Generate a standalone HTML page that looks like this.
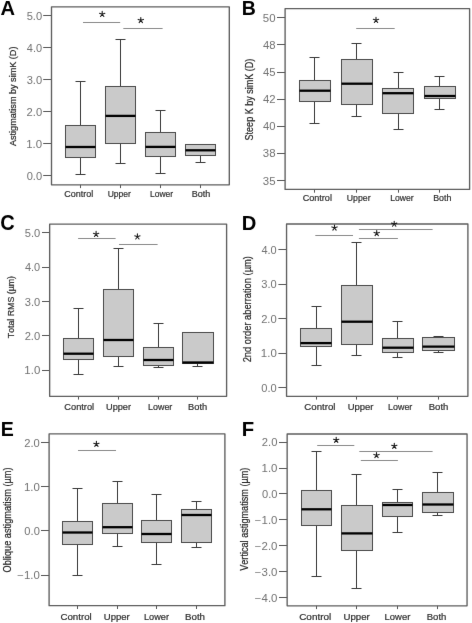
<!DOCTYPE html>
<html><head><meta charset="utf-8"><style>
html,body{margin:0;padding:0;background:#fff;}
svg{display:block;will-change:transform;}
text{font-family:"Liberation Sans", sans-serif;font-kerning:none;}
</style></head><body>
<svg width="472" height="623" viewBox="0 0 472 623">
<defs><filter id="soft" x="0" y="0" width="472" height="623" filterUnits="userSpaceOnUse" color-interpolation-filters="sRGB"><feConvolveMatrix order="3" kernelMatrix="0.00276 0.04704 0.00276 0.04704 0.80077 0.04704 0.00276 0.04704 0.00276" edgeMode="duplicate" preserveAlpha="true"/></filter></defs>
<g filter="url(#soft)">
<rect width="472" height="623" fill="#fff"/>
<line x1="43.2" y1="15.5" x2="51.5" y2="15.5" stroke="#555" stroke-width="1"/>
<text transform="translate(26.65,19.69) scale(1.1136,1)" font-size="10" fill="#727272">5.0</text>
<line x1="43.2" y1="47.5" x2="51.5" y2="47.5" stroke="#555" stroke-width="1"/>
<text transform="translate(26.85,51.79) scale(1.0993,1)" font-size="10" fill="#727272">4.0</text>
<line x1="43.2" y1="79.5" x2="51.5" y2="79.5" stroke="#555" stroke-width="1"/>
<text transform="translate(26.68,83.99) scale(1.1120,1)" font-size="10" fill="#727272">3.0</text>
<line x1="43.2" y1="111.5" x2="51.5" y2="111.5" stroke="#555" stroke-width="1"/>
<text transform="translate(26.54,115.79) scale(1.1224,1)" font-size="10" fill="#727272">2.0</text>
<line x1="43.2" y1="143.5" x2="51.5" y2="143.5" stroke="#555" stroke-width="1"/>
<text transform="translate(26.23,147.89) scale(1.1452,1)" font-size="10" fill="#727272">1.0</text>
<line x1="43.2" y1="175.5" x2="51.5" y2="175.5" stroke="#555" stroke-width="1"/>
<text transform="translate(26.67,179.69) scale(1.1128,1)" font-size="10" fill="#727272">0.0</text>
<line x1="80.5" y1="81.5" x2="80.5" y2="125.5" stroke="#383838" stroke-width="1"/>
<line x1="80.5" y1="157.5" x2="80.5" y2="174.5" stroke="#383838" stroke-width="1"/>
<line x1="75.5" y1="81.5" x2="85.5" y2="81.5" stroke="#383838" stroke-width="1"/>
<line x1="75.5" y1="174.5" x2="85.5" y2="174.5" stroke="#383838" stroke-width="1"/>
<rect x="65.5" y="125.5" width="30" height="32" fill="#cacaca" stroke="#4a4a4a" stroke-width="1"/>
<line x1="65.5" y1="147" x2="95.5" y2="147" stroke="#000" stroke-width="2.3"/>
<line x1="80.5" y1="184.8" x2="80.5" y2="188.1" stroke="#555" stroke-width="1"/>
<line x1="120.5" y1="39.5" x2="120.5" y2="86.5" stroke="#383838" stroke-width="1"/>
<line x1="120.5" y1="143.5" x2="120.5" y2="163.5" stroke="#383838" stroke-width="1"/>
<line x1="115.5" y1="39.5" x2="125.5" y2="39.5" stroke="#383838" stroke-width="1"/>
<line x1="115.5" y1="163.5" x2="125.5" y2="163.5" stroke="#383838" stroke-width="1"/>
<rect x="105.5" y="86.5" width="30" height="57" fill="#cacaca" stroke="#4a4a4a" stroke-width="1"/>
<line x1="105.5" y1="115.9" x2="135.5" y2="115.9" stroke="#000" stroke-width="2.3"/>
<line x1="120.5" y1="184.8" x2="120.5" y2="188.1" stroke="#555" stroke-width="1"/>
<line x1="160.5" y1="110.5" x2="160.5" y2="132.5" stroke="#383838" stroke-width="1"/>
<line x1="160.5" y1="156.5" x2="160.5" y2="173.5" stroke="#383838" stroke-width="1"/>
<line x1="155.5" y1="110.5" x2="165.5" y2="110.5" stroke="#383838" stroke-width="1"/>
<line x1="155.5" y1="173.5" x2="165.5" y2="173.5" stroke="#383838" stroke-width="1"/>
<rect x="145.5" y="132.5" width="30" height="24" fill="#cacaca" stroke="#4a4a4a" stroke-width="1"/>
<line x1="145.5" y1="146.9" x2="175.5" y2="146.9" stroke="#000" stroke-width="2.3"/>
<line x1="160.5" y1="184.8" x2="160.5" y2="188.1" stroke="#555" stroke-width="1"/>
<line x1="200.5" y1="144.5" x2="200.5" y2="144.5" stroke="#383838" stroke-width="1"/>
<line x1="200.5" y1="155.5" x2="200.5" y2="162.5" stroke="#383838" stroke-width="1"/>
<line x1="195.5" y1="144.5" x2="205.5" y2="144.5" stroke="#383838" stroke-width="1"/>
<line x1="195.5" y1="162.5" x2="205.5" y2="162.5" stroke="#383838" stroke-width="1"/>
<rect x="185.5" y="144.5" width="30" height="11" fill="#cacaca" stroke="#4a4a4a" stroke-width="1"/>
<line x1="185.5" y1="150.3" x2="215.5" y2="150.3" stroke="#000" stroke-width="2.3"/>
<line x1="200.5" y1="184.8" x2="200.5" y2="188.1" stroke="#555" stroke-width="1"/>
<text transform="translate(64.24,196.9) scale(1.0244,1)" font-size="8.8" fill="#2e2e2e" stroke="#2e2e2e" stroke-width="0.2">Control</text>
<text transform="translate(107.64,196.9) scale(0.9722,1)" font-size="8.8" fill="#2e2e2e" stroke="#2e2e2e" stroke-width="0.2">Upper</text>
<text transform="translate(150,196.9) scale(0.9654,1)" font-size="8.8" fill="#2e2e2e" stroke="#2e2e2e" stroke-width="0.2">Lower</text>
<text transform="translate(191.76,196.9) scale(1.0292,1)" font-size="8.8" fill="#2e2e2e" stroke="#2e2e2e" stroke-width="0.2">Both</text>
<rect x="51.5" y="6.85" width="177.8" height="177.95" fill="none" stroke="#5e5e5e" stroke-width="1.35" stroke-linejoin="round"/>
<line x1="83" y1="22.5" x2="120.2" y2="22.5" stroke="#8a8a8a" stroke-width="1"/>
<path d="M102.2,14.2L102.2,11.4M102.2,14.2L104.86,13.33M102.2,14.2L103.85,16.47M102.2,14.2L100.55,16.47M102.2,14.2L99.54,13.33" stroke="#1a1a1a" stroke-width="1.1" stroke-linecap="round" fill="none"/>
<line x1="123.3" y1="28.5" x2="162.6" y2="28.5" stroke="#8a8a8a" stroke-width="1"/>
<path d="M140.8,20.3L140.8,17.5M140.8,20.3L143.46,19.43M140.8,20.3L142.45,22.57M140.8,20.3L139.15,22.57M140.8,20.3L138.14,19.43" stroke="#1a1a1a" stroke-width="1.1" stroke-linecap="round" fill="none"/>
<text transform="translate(15.55,146.02) rotate(-90) scale(0.9780,1)" font-size="9.30" fill="#262626" stroke="#262626" stroke-width="0.2">Astigmatism by simK (D)</text>
<text transform="translate(0.4,14.9) scale(0.9888,1)" font-size="20.35" fill="#000" font-weight="bold">A</text>
<line x1="277" y1="17.5" x2="285.1" y2="17.5" stroke="#555" stroke-width="1"/>
<text transform="translate(262.84,21.99) scale(1.1421,1)" font-size="10" fill="#727272">50</text>
<line x1="277" y1="44.5" x2="285.1" y2="44.5" stroke="#555" stroke-width="1"/>
<text transform="translate(263.04,49.09) scale(1.1282,1)" font-size="10" fill="#727272">48</text>
<line x1="277" y1="72.5" x2="285.1" y2="72.5" stroke="#555" stroke-width="1"/>
<text transform="translate(263.04,76.14) scale(1.1266,1)" font-size="10" fill="#727272">45</text>
<line x1="277" y1="99.5" x2="285.1" y2="99.5" stroke="#555" stroke-width="1"/>
<text transform="translate(263.04,103.29) scale(1.1356,1)" font-size="10" fill="#727272">42</text>
<line x1="277" y1="126.5" x2="285.1" y2="126.5" stroke="#555" stroke-width="1"/>
<text transform="translate(263.04,130.39) scale(1.1235,1)" font-size="10" fill="#727272">40</text>
<line x1="277" y1="153.5" x2="285.1" y2="153.5" stroke="#555" stroke-width="1"/>
<text transform="translate(262.86,157.49) scale(1.1448,1)" font-size="10" fill="#727272">38</text>
<line x1="277" y1="180.5" x2="285.1" y2="180.5" stroke="#555" stroke-width="1"/>
<text transform="translate(262.86,184.59) scale(1.1432,1)" font-size="10" fill="#727272">35</text>
<line x1="314.5" y1="57.5" x2="314.5" y2="80.5" stroke="#383838" stroke-width="1"/>
<line x1="314.5" y1="101.5" x2="314.5" y2="123.5" stroke="#383838" stroke-width="1"/>
<line x1="309.5" y1="57.5" x2="319.5" y2="57.5" stroke="#383838" stroke-width="1"/>
<line x1="309.5" y1="123.5" x2="319.5" y2="123.5" stroke="#383838" stroke-width="1"/>
<rect x="299.5" y="80.5" width="31" height="21" fill="#cacaca" stroke="#4a4a4a" stroke-width="1"/>
<line x1="299.5" y1="90.7" x2="330.5" y2="90.7" stroke="#000" stroke-width="2.3"/>
<line x1="314.5" y1="189.4" x2="314.5" y2="192.7" stroke="#555" stroke-width="1"/>
<line x1="356.5" y1="43.5" x2="356.5" y2="59.5" stroke="#383838" stroke-width="1"/>
<line x1="356.5" y1="104.5" x2="356.5" y2="116.5" stroke="#383838" stroke-width="1"/>
<line x1="351.5" y1="43.5" x2="361.5" y2="43.5" stroke="#383838" stroke-width="1"/>
<line x1="351.5" y1="116.5" x2="361.5" y2="116.5" stroke="#383838" stroke-width="1"/>
<rect x="341.5" y="59.5" width="31" height="45" fill="#cacaca" stroke="#4a4a4a" stroke-width="1"/>
<line x1="341.5" y1="83.7" x2="372.5" y2="83.7" stroke="#000" stroke-width="2.3"/>
<line x1="356.5" y1="189.4" x2="356.5" y2="192.7" stroke="#555" stroke-width="1"/>
<line x1="398.5" y1="72.5" x2="398.5" y2="88.5" stroke="#383838" stroke-width="1"/>
<line x1="398.5" y1="113.5" x2="398.5" y2="129.5" stroke="#383838" stroke-width="1"/>
<line x1="393.5" y1="72.5" x2="403.5" y2="72.5" stroke="#383838" stroke-width="1"/>
<line x1="393.5" y1="129.5" x2="403.5" y2="129.5" stroke="#383838" stroke-width="1"/>
<rect x="382.5" y="88.5" width="31" height="25" fill="#cacaca" stroke="#4a4a4a" stroke-width="1"/>
<line x1="382.5" y1="93.2" x2="413.5" y2="93.2" stroke="#000" stroke-width="2.3"/>
<line x1="398.5" y1="189.4" x2="398.5" y2="192.7" stroke="#555" stroke-width="1"/>
<line x1="439.5" y1="76.5" x2="439.5" y2="86.5" stroke="#383838" stroke-width="1"/>
<line x1="439.5" y1="98.5" x2="439.5" y2="109.5" stroke="#383838" stroke-width="1"/>
<line x1="434.5" y1="76.5" x2="444.5" y2="76.5" stroke="#383838" stroke-width="1"/>
<line x1="434.5" y1="109.5" x2="444.5" y2="109.5" stroke="#383838" stroke-width="1"/>
<rect x="424.5" y="86.5" width="31" height="12" fill="#cacaca" stroke="#4a4a4a" stroke-width="1"/>
<line x1="424.5" y1="96" x2="455.5" y2="96" stroke="#000" stroke-width="2.3"/>
<line x1="439.5" y1="189.4" x2="439.5" y2="192.7" stroke="#555" stroke-width="1"/>
<text transform="translate(302.64,201) scale(1.0354,1)" font-size="8.8" fill="#2e2e2e" stroke="#2e2e2e" stroke-width="0.2">Control</text>
<text transform="translate(346.83,201) scale(0.9895,1)" font-size="8.8" fill="#2e2e2e" stroke="#2e2e2e" stroke-width="0.2">Upper</text>
<text transform="translate(390.29,201) scale(0.9784,1)" font-size="8.8" fill="#2e2e2e" stroke="#2e2e2e" stroke-width="0.2">Lower</text>
<text transform="translate(433.17,201) scale(1.0054,1)" font-size="8.8" fill="#2e2e2e" stroke="#2e2e2e" stroke-width="0.2">Both</text>
<rect x="285.1" y="8.55" width="184.5" height="180.85" fill="none" stroke="#5e5e5e" stroke-width="1.35" stroke-linejoin="round"/>
<line x1="356.2" y1="28.5" x2="394.7" y2="28.5" stroke="#8a8a8a" stroke-width="1"/>
<path d="M376,20.2L376,17.4M376,20.2L378.66,19.33M376,20.2L377.65,22.47M376,20.2L374.35,22.47M376,20.2L373.34,19.33" stroke="#1a1a1a" stroke-width="1.1" stroke-linecap="round" fill="none"/>
<text transform="translate(253.25,140.41) rotate(-90) scale(0.8737,1)" font-size="10.32" fill="#262626" stroke="#262626" stroke-width="0.2">Steep K by simK (D)</text>
<text transform="translate(241.79,15) scale(0.9589,1)" font-size="20.35" fill="#000" font-weight="bold">B</text>
<line x1="42" y1="232.5" x2="49.65" y2="232.5" stroke="#555" stroke-width="1"/>
<text transform="translate(24.75,236.79) scale(1.1136,1)" font-size="10" fill="#727272">5.0</text>
<line x1="42" y1="267.5" x2="49.65" y2="267.5" stroke="#555" stroke-width="1"/>
<text transform="translate(24.95,271.19) scale(1.0993,1)" font-size="10" fill="#727272">4.0</text>
<line x1="42" y1="301.5" x2="49.65" y2="301.5" stroke="#555" stroke-width="1"/>
<text transform="translate(24.78,305.59) scale(1.1120,1)" font-size="10" fill="#727272">3.0</text>
<line x1="42" y1="335.5" x2="49.65" y2="335.5" stroke="#555" stroke-width="1"/>
<text transform="translate(24.64,339.89) scale(1.1224,1)" font-size="10" fill="#727272">2.0</text>
<line x1="42" y1="370.5" x2="49.65" y2="370.5" stroke="#555" stroke-width="1"/>
<text transform="translate(24.33,374.49) scale(1.1452,1)" font-size="10" fill="#727272">1.0</text>
<line x1="78.5" y1="308.5" x2="78.5" y2="338.5" stroke="#383838" stroke-width="1"/>
<line x1="78.5" y1="359.5" x2="78.5" y2="374.5" stroke="#383838" stroke-width="1"/>
<line x1="73.5" y1="308.5" x2="83.5" y2="308.5" stroke="#383838" stroke-width="1"/>
<line x1="73.5" y1="374.5" x2="83.5" y2="374.5" stroke="#383838" stroke-width="1"/>
<rect x="63.5" y="338.5" width="30" height="21" fill="#cacaca" stroke="#4a4a4a" stroke-width="1"/>
<line x1="63.5" y1="353.7" x2="93.5" y2="353.7" stroke="#000" stroke-width="2.3"/>
<line x1="78.5" y1="396.3" x2="78.5" y2="399.6" stroke="#555" stroke-width="1"/>
<line x1="118.5" y1="248.5" x2="118.5" y2="289.5" stroke="#383838" stroke-width="1"/>
<line x1="118.5" y1="356.5" x2="118.5" y2="366.5" stroke="#383838" stroke-width="1"/>
<line x1="113.5" y1="248.5" x2="123.5" y2="248.5" stroke="#383838" stroke-width="1"/>
<line x1="113.5" y1="366.5" x2="123.5" y2="366.5" stroke="#383838" stroke-width="1"/>
<rect x="103.5" y="289.5" width="30" height="67" fill="#cacaca" stroke="#4a4a4a" stroke-width="1"/>
<line x1="103.5" y1="340" x2="133.5" y2="340" stroke="#000" stroke-width="2.3"/>
<line x1="118.5" y1="396.3" x2="118.5" y2="399.6" stroke="#555" stroke-width="1"/>
<line x1="158.5" y1="323.5" x2="158.5" y2="347.5" stroke="#383838" stroke-width="1"/>
<line x1="158.5" y1="365.5" x2="158.5" y2="367.5" stroke="#383838" stroke-width="1"/>
<line x1="153.5" y1="323.5" x2="163.5" y2="323.5" stroke="#383838" stroke-width="1"/>
<line x1="153.5" y1="367.5" x2="163.5" y2="367.5" stroke="#383838" stroke-width="1"/>
<rect x="143.5" y="347.5" width="30" height="18" fill="#cacaca" stroke="#4a4a4a" stroke-width="1"/>
<line x1="143.5" y1="360" x2="173.5" y2="360" stroke="#000" stroke-width="2.3"/>
<line x1="158.5" y1="396.3" x2="158.5" y2="399.6" stroke="#555" stroke-width="1"/>
<line x1="197.5" y1="332.5" x2="197.5" y2="332.5" stroke="#383838" stroke-width="1"/>
<line x1="197.5" y1="363.5" x2="197.5" y2="366.5" stroke="#383838" stroke-width="1"/>
<line x1="192.5" y1="332.5" x2="202.5" y2="332.5" stroke="#383838" stroke-width="1"/>
<line x1="192.5" y1="366.5" x2="202.5" y2="366.5" stroke="#383838" stroke-width="1"/>
<rect x="182.5" y="332.5" width="31" height="31" fill="#cacaca" stroke="#4a4a4a" stroke-width="1"/>
<line x1="182.5" y1="362.5" x2="213.5" y2="362.5" stroke="#000" stroke-width="2.3"/>
<line x1="197.5" y1="396.3" x2="197.5" y2="399.6" stroke="#555" stroke-width="1"/>
<text transform="translate(64.33,409.6) scale(1.0537,1)" font-size="8.8" fill="#2e2e2e" stroke="#2e2e2e" stroke-width="0.2">Control</text>
<text transform="translate(105.99,409.6) scale(1.0457,1)" font-size="8.8" fill="#2e2e2e" stroke="#2e2e2e" stroke-width="0.2">Upper</text>
<text transform="translate(148.07,409.6) scale(1.0130,1)" font-size="8.8" fill="#2e2e2e" stroke="#2e2e2e" stroke-width="0.2">Lower</text>
<text transform="translate(188.04,409.6) scale(1.0589,1)" font-size="8.8" fill="#2e2e2e" stroke="#2e2e2e" stroke-width="0.2">Both</text>
<rect x="49.65" y="224.05" width="176.95" height="172.25" fill="none" stroke="#5e5e5e" stroke-width="1.35" stroke-linejoin="round"/>
<line x1="78.1" y1="238.5" x2="115.6" y2="238.5" stroke="#8a8a8a" stroke-width="1"/>
<path d="M96.1,234.2L96.1,231.4M96.1,234.2L98.76,233.33M96.1,234.2L97.75,236.47M96.1,234.2L94.45,236.47M96.1,234.2L93.44,233.33" stroke="#1a1a1a" stroke-width="1.1" stroke-linecap="round" fill="none"/>
<line x1="119" y1="244.5" x2="157.6" y2="244.5" stroke="#8a8a8a" stroke-width="1"/>
<path d="M137.4,236.7L137.4,233.9M137.4,236.7L140.06,235.83M137.4,236.7L139.05,238.97M137.4,236.7L135.75,238.97M137.4,236.7L134.74,235.83" stroke="#1a1a1a" stroke-width="1.1" stroke-linecap="round" fill="none"/>
<text transform="translate(13.75,338.2) rotate(-90) scale(0.9032,1)" font-size="9.74" fill="#262626" stroke="#262626" stroke-width="0.2">Total RMS (µm)</text>
<text transform="translate(0.28,230.39) scale(0.9272,1)" font-size="21.61" fill="#000" font-weight="bold">C</text>
<line x1="278.4" y1="249.5" x2="286.55" y2="249.5" stroke="#555" stroke-width="1"/>
<text transform="translate(261.45,254.09) scale(1.0993,1)" font-size="10" fill="#727272">4.0</text>
<line x1="278.4" y1="284.5" x2="286.55" y2="284.5" stroke="#555" stroke-width="1"/>
<text transform="translate(261.28,288.49) scale(1.1120,1)" font-size="10" fill="#727272">3.0</text>
<line x1="278.4" y1="318.5" x2="286.55" y2="318.5" stroke="#555" stroke-width="1"/>
<text transform="translate(261.14,323.09) scale(1.1224,1)" font-size="10" fill="#727272">2.0</text>
<line x1="278.4" y1="353.5" x2="286.55" y2="353.5" stroke="#555" stroke-width="1"/>
<text transform="translate(260.83,357.39) scale(1.1452,1)" font-size="10" fill="#727272">1.0</text>
<line x1="278.4" y1="387.5" x2="286.55" y2="387.5" stroke="#555" stroke-width="1"/>
<text transform="translate(261.27,391.99) scale(1.1128,1)" font-size="10" fill="#727272">0.0</text>
<line x1="316.5" y1="306.5" x2="316.5" y2="328.5" stroke="#383838" stroke-width="1"/>
<line x1="316.5" y1="346.5" x2="316.5" y2="365.5" stroke="#383838" stroke-width="1"/>
<line x1="311.5" y1="306.5" x2="321.5" y2="306.5" stroke="#383838" stroke-width="1"/>
<line x1="311.5" y1="365.5" x2="321.5" y2="365.5" stroke="#383838" stroke-width="1"/>
<rect x="300.5" y="328.5" width="31" height="18" fill="#cacaca" stroke="#4a4a4a" stroke-width="1"/>
<line x1="300.5" y1="343.1" x2="331.5" y2="343.1" stroke="#000" stroke-width="2.3"/>
<line x1="316.5" y1="396.3" x2="316.5" y2="399.6" stroke="#555" stroke-width="1"/>
<line x1="356.5" y1="242.5" x2="356.5" y2="285.5" stroke="#383838" stroke-width="1"/>
<line x1="356.5" y1="344.5" x2="356.5" y2="355.5" stroke="#383838" stroke-width="1"/>
<line x1="351.5" y1="242.5" x2="361.5" y2="242.5" stroke="#383838" stroke-width="1"/>
<line x1="351.5" y1="355.5" x2="361.5" y2="355.5" stroke="#383838" stroke-width="1"/>
<rect x="341.5" y="285.5" width="31" height="59" fill="#cacaca" stroke="#4a4a4a" stroke-width="1"/>
<line x1="341.5" y1="321.7" x2="372.5" y2="321.7" stroke="#000" stroke-width="2.3"/>
<line x1="356.5" y1="396.3" x2="356.5" y2="399.6" stroke="#555" stroke-width="1"/>
<line x1="397.5" y1="321.5" x2="397.5" y2="338.5" stroke="#383838" stroke-width="1"/>
<line x1="397.5" y1="352.5" x2="397.5" y2="357.5" stroke="#383838" stroke-width="1"/>
<line x1="392.5" y1="321.5" x2="402.5" y2="321.5" stroke="#383838" stroke-width="1"/>
<line x1="392.5" y1="357.5" x2="402.5" y2="357.5" stroke="#383838" stroke-width="1"/>
<rect x="382.5" y="338.5" width="31" height="14" fill="#cacaca" stroke="#4a4a4a" stroke-width="1"/>
<line x1="382.5" y1="347.7" x2="413.5" y2="347.7" stroke="#000" stroke-width="2.3"/>
<line x1="397.5" y1="396.3" x2="397.5" y2="399.6" stroke="#555" stroke-width="1"/>
<line x1="438.5" y1="336.5" x2="438.5" y2="337.5" stroke="#383838" stroke-width="1"/>
<line x1="438.5" y1="350.5" x2="438.5" y2="352.5" stroke="#383838" stroke-width="1"/>
<line x1="433.5" y1="336.5" x2="443.5" y2="336.5" stroke="#383838" stroke-width="1"/>
<line x1="433.5" y1="352.5" x2="443.5" y2="352.5" stroke="#383838" stroke-width="1"/>
<rect x="422.5" y="337.5" width="32" height="13" fill="#cacaca" stroke="#4a4a4a" stroke-width="1"/>
<line x1="422.5" y1="346.6" x2="454.5" y2="346.6" stroke="#000" stroke-width="2.3"/>
<line x1="438.5" y1="396.3" x2="438.5" y2="399.6" stroke="#555" stroke-width="1"/>
<text transform="translate(304.31,409.6) scale(1.0976,1)" font-size="8.8" fill="#2e2e2e" stroke="#2e2e2e" stroke-width="0.2">Control</text>
<text transform="translate(347.67,409.6) scale(1.0759,1)" font-size="8.8" fill="#2e2e2e" stroke="#2e2e2e" stroke-width="0.2">Upper</text>
<text transform="translate(388.07,409.6) scale(1.0130,1)" font-size="8.8" fill="#2e2e2e" stroke="#2e2e2e" stroke-width="0.2">Lower</text>
<text transform="translate(428.71,409.6) scale(1.0887,1)" font-size="8.8" fill="#2e2e2e" stroke="#2e2e2e" stroke-width="0.2">Both</text>
<rect x="286.55" y="224" width="181.35" height="172.3" fill="none" stroke="#5e5e5e" stroke-width="1.35" stroke-linejoin="round"/>
<line x1="315.3" y1="235.5" x2="353" y2="235.5" stroke="#8a8a8a" stroke-width="1"/>
<path d="M334.5,227.8L334.5,225M334.5,227.8L337.16,226.93M334.5,227.8L336.15,230.07M334.5,227.8L332.85,230.07M334.5,227.8L331.84,226.93" stroke="#1a1a1a" stroke-width="1.1" stroke-linecap="round" fill="none"/>
<line x1="358.9" y1="229.5" x2="432.6" y2="229.5" stroke="#8a8a8a" stroke-width="1"/>
<path d="M394.2,224L394.2,221.2M394.2,224L396.86,223.13M394.2,224L395.85,226.27M394.2,224L392.55,226.27M394.2,224L391.54,223.13" stroke="#1a1a1a" stroke-width="1.1" stroke-linecap="round" fill="none"/>
<line x1="358.9" y1="238.5" x2="397.9" y2="238.5" stroke="#8a8a8a" stroke-width="1"/>
<path d="M376.7,233.3L376.7,230.5M376.7,233.3L379.36,232.43M376.7,233.3L378.35,235.57M376.7,233.3L375.05,235.57M376.7,233.3L374.04,232.43" stroke="#1a1a1a" stroke-width="1.1" stroke-linecap="round" fill="none"/>
<text transform="translate(250.55,362.37) rotate(-90) scale(0.8555,1)" font-size="10.90" fill="#262626" stroke="#262626" stroke-width="0.2">2nd order aberration (µm)</text>
<text transform="translate(241.75,230) scale(0.9796,1)" font-size="20.64" fill="#000" font-weight="bold">D</text>
<line x1="41" y1="442.5" x2="49.1" y2="442.5" stroke="#555" stroke-width="1"/>
<text transform="translate(24.24,446.59) scale(1.1224,1)" font-size="10" fill="#727272">2.0</text>
<line x1="41" y1="486.5" x2="49.1" y2="486.5" stroke="#555" stroke-width="1"/>
<text transform="translate(23.93,490.69) scale(1.1452,1)" font-size="10" fill="#727272">1.0</text>
<line x1="41" y1="530.5" x2="49.1" y2="530.5" stroke="#555" stroke-width="1"/>
<text transform="translate(24.37,534.99) scale(1.1128,1)" font-size="10" fill="#727272">0.0</text>
<line x1="41" y1="575.5" x2="49.1" y2="575.5" stroke="#555" stroke-width="1"/>
<text transform="translate(17.24,579.29) scale(1.1454,1)" font-size="10" fill="#727272">−1.0</text>
<line x1="77.5" y1="488.5" x2="77.5" y2="521.5" stroke="#383838" stroke-width="1"/>
<line x1="77.5" y1="544.5" x2="77.5" y2="575.5" stroke="#383838" stroke-width="1"/>
<line x1="72.5" y1="488.5" x2="82.5" y2="488.5" stroke="#383838" stroke-width="1"/>
<line x1="72.5" y1="575.5" x2="82.5" y2="575.5" stroke="#383838" stroke-width="1"/>
<rect x="62.5" y="521.5" width="30" height="23" fill="#cacaca" stroke="#4a4a4a" stroke-width="1"/>
<line x1="62.5" y1="532.5" x2="92.5" y2="532.5" stroke="#000" stroke-width="2.3"/>
<line x1="77.5" y1="605.7" x2="77.5" y2="609" stroke="#555" stroke-width="1"/>
<line x1="117.5" y1="481.5" x2="117.5" y2="503.5" stroke="#383838" stroke-width="1"/>
<line x1="117.5" y1="533.5" x2="117.5" y2="546.5" stroke="#383838" stroke-width="1"/>
<line x1="112.5" y1="481.5" x2="122.5" y2="481.5" stroke="#383838" stroke-width="1"/>
<line x1="112.5" y1="546.5" x2="122.5" y2="546.5" stroke="#383838" stroke-width="1"/>
<rect x="102.5" y="503.5" width="30" height="30" fill="#cacaca" stroke="#4a4a4a" stroke-width="1"/>
<line x1="102.5" y1="527.2" x2="132.5" y2="527.2" stroke="#000" stroke-width="2.3"/>
<line x1="117.5" y1="605.7" x2="117.5" y2="609" stroke="#555" stroke-width="1"/>
<line x1="156.5" y1="494.5" x2="156.5" y2="520.5" stroke="#383838" stroke-width="1"/>
<line x1="156.5" y1="542.5" x2="156.5" y2="564.5" stroke="#383838" stroke-width="1"/>
<line x1="151.5" y1="494.5" x2="161.5" y2="494.5" stroke="#383838" stroke-width="1"/>
<line x1="151.5" y1="564.5" x2="161.5" y2="564.5" stroke="#383838" stroke-width="1"/>
<rect x="141.5" y="520.5" width="30" height="22" fill="#cacaca" stroke="#4a4a4a" stroke-width="1"/>
<line x1="141.5" y1="534" x2="171.5" y2="534" stroke="#000" stroke-width="2.3"/>
<line x1="156.5" y1="605.7" x2="156.5" y2="609" stroke="#555" stroke-width="1"/>
<line x1="196.5" y1="501.5" x2="196.5" y2="509.5" stroke="#383838" stroke-width="1"/>
<line x1="196.5" y1="542.5" x2="196.5" y2="547.5" stroke="#383838" stroke-width="1"/>
<line x1="191.5" y1="501.5" x2="201.5" y2="501.5" stroke="#383838" stroke-width="1"/>
<line x1="191.5" y1="547.5" x2="201.5" y2="547.5" stroke="#383838" stroke-width="1"/>
<rect x="181.5" y="509.5" width="30" height="33" fill="#cacaca" stroke="#4a4a4a" stroke-width="1"/>
<line x1="181.5" y1="515" x2="211.5" y2="515" stroke="#000" stroke-width="2.3"/>
<line x1="196.5" y1="605.7" x2="196.5" y2="609" stroke="#555" stroke-width="1"/>
<text transform="translate(60.41,619.6) scale(1.1049,1)" font-size="8.8" fill="#2e2e2e" stroke="#2e2e2e" stroke-width="0.2">Control</text>
<text transform="translate(103.76,619.6) scale(1.0846,1)" font-size="8.8" fill="#2e2e2e" stroke="#2e2e2e" stroke-width="0.2">Upper</text>
<text transform="translate(143.95,619.6) scale(1.0433,1)" font-size="8.8" fill="#2e2e2e" stroke="#2e2e2e" stroke-width="0.2">Lower</text>
<text transform="translate(185,619.6) scale(1.1065,1)" font-size="8.8" fill="#2e2e2e" stroke="#2e2e2e" stroke-width="0.2">Both</text>
<rect x="49.1" y="433.8" width="175.8" height="171.9" fill="none" stroke="#5e5e5e" stroke-width="1.35" stroke-linejoin="round"/>
<line x1="78" y1="450.5" x2="116" y2="450.5" stroke="#8a8a8a" stroke-width="1"/>
<path d="M96.4,444.1L96.4,441.3M96.4,444.1L99.06,443.23M96.4,444.1L98.05,446.37M96.4,444.1L94.75,446.37M96.4,444.1L93.74,443.23" stroke="#1a1a1a" stroke-width="1.1" stroke-linecap="round" fill="none"/>
<text transform="translate(10.65,572.44) rotate(-90) scale(0.8229,1)" font-size="11.19" fill="#262626" stroke="#262626" stroke-width="0.2">Oblique astigmatism (µm)</text>
<text transform="translate(0.69,436) scale(0.9499,1)" font-size="20.64" fill="#000" font-weight="bold">E</text>
<line x1="279" y1="442.5" x2="287.15" y2="442.5" stroke="#555" stroke-width="1"/>
<text transform="translate(261.84,446.39) scale(1.1224,1)" font-size="10" fill="#727272">2.0</text>
<line x1="279" y1="468.5" x2="287.15" y2="468.5" stroke="#555" stroke-width="1"/>
<text transform="translate(261.53,472.29) scale(1.1452,1)" font-size="10" fill="#727272">1.0</text>
<line x1="279" y1="493.5" x2="287.15" y2="493.5" stroke="#555" stroke-width="1"/>
<text transform="translate(261.97,498.09) scale(1.1128,1)" font-size="10" fill="#727272">0.0</text>
<line x1="279" y1="519.5" x2="287.15" y2="519.5" stroke="#555" stroke-width="1"/>
<text transform="translate(254.84,523.99) scale(1.1454,1)" font-size="10" fill="#727272">−1.0</text>
<line x1="279" y1="545.5" x2="287.15" y2="545.5" stroke="#555" stroke-width="1"/>
<text transform="translate(254.84,549.89) scale(1.1454,1)" font-size="10" fill="#727272">−2.0</text>
<line x1="279" y1="571.5" x2="287.15" y2="571.5" stroke="#555" stroke-width="1"/>
<text transform="translate(254.84,575.79) scale(1.1454,1)" font-size="10" fill="#727272">−3.0</text>
<line x1="279" y1="597.5" x2="287.15" y2="597.5" stroke="#555" stroke-width="1"/>
<text transform="translate(254.84,601.69) scale(1.1454,1)" font-size="10" fill="#727272">−4.0</text>
<line x1="316.5" y1="451.5" x2="316.5" y2="490.5" stroke="#383838" stroke-width="1"/>
<line x1="316.5" y1="525.5" x2="316.5" y2="576.5" stroke="#383838" stroke-width="1"/>
<line x1="311.5" y1="451.5" x2="321.5" y2="451.5" stroke="#383838" stroke-width="1"/>
<line x1="311.5" y1="576.5" x2="321.5" y2="576.5" stroke="#383838" stroke-width="1"/>
<rect x="301.5" y="490.5" width="30" height="35" fill="#cacaca" stroke="#4a4a4a" stroke-width="1"/>
<line x1="301.5" y1="509.3" x2="331.5" y2="509.3" stroke="#000" stroke-width="2.3"/>
<line x1="316.5" y1="605.8" x2="316.5" y2="609.1" stroke="#555" stroke-width="1"/>
<line x1="356.5" y1="474.5" x2="356.5" y2="505.5" stroke="#383838" stroke-width="1"/>
<line x1="356.5" y1="550.5" x2="356.5" y2="588.5" stroke="#383838" stroke-width="1"/>
<line x1="351.5" y1="474.5" x2="361.5" y2="474.5" stroke="#383838" stroke-width="1"/>
<line x1="351.5" y1="588.5" x2="361.5" y2="588.5" stroke="#383838" stroke-width="1"/>
<rect x="341.5" y="505.5" width="31" height="45" fill="#cacaca" stroke="#4a4a4a" stroke-width="1"/>
<line x1="341.5" y1="533.4" x2="372.5" y2="533.4" stroke="#000" stroke-width="2.3"/>
<line x1="356.5" y1="605.8" x2="356.5" y2="609.1" stroke="#555" stroke-width="1"/>
<line x1="397.5" y1="489.5" x2="397.5" y2="502.5" stroke="#383838" stroke-width="1"/>
<line x1="397.5" y1="516.5" x2="397.5" y2="532.5" stroke="#383838" stroke-width="1"/>
<line x1="392.5" y1="489.5" x2="402.5" y2="489.5" stroke="#383838" stroke-width="1"/>
<line x1="392.5" y1="532.5" x2="402.5" y2="532.5" stroke="#383838" stroke-width="1"/>
<rect x="382.5" y="502.5" width="30" height="14" fill="#cacaca" stroke="#4a4a4a" stroke-width="1"/>
<line x1="382.5" y1="505" x2="412.5" y2="505" stroke="#000" stroke-width="2.3"/>
<line x1="397.5" y1="605.8" x2="397.5" y2="609.1" stroke="#555" stroke-width="1"/>
<line x1="437.5" y1="472.5" x2="437.5" y2="492.5" stroke="#383838" stroke-width="1"/>
<line x1="437.5" y1="512.5" x2="437.5" y2="515.5" stroke="#383838" stroke-width="1"/>
<line x1="432.5" y1="472.5" x2="442.5" y2="472.5" stroke="#383838" stroke-width="1"/>
<line x1="432.5" y1="515.5" x2="442.5" y2="515.5" stroke="#383838" stroke-width="1"/>
<rect x="422.5" y="492.5" width="31" height="20" fill="#cacaca" stroke="#4a4a4a" stroke-width="1"/>
<line x1="422.5" y1="504.5" x2="453.5" y2="504.5" stroke="#000" stroke-width="2.3"/>
<line x1="437.5" y1="605.8" x2="437.5" y2="609.1" stroke="#555" stroke-width="1"/>
<text transform="translate(299.19,619.6) scale(1.1305,1)" font-size="8.8" fill="#2e2e2e" stroke="#2e2e2e" stroke-width="0.2">Control</text>
<text transform="translate(343.45,619.6) scale(1.0975,1)" font-size="8.8" fill="#2e2e2e" stroke="#2e2e2e" stroke-width="0.2">Upper</text>
<text transform="translate(384.62,619.6) scale(1.0736,1)" font-size="8.8" fill="#2e2e2e" stroke="#2e2e2e" stroke-width="0.2">Lower</text>
<text transform="translate(426.71,619.6) scale(1.0887,1)" font-size="8.8" fill="#2e2e2e" stroke="#2e2e2e" stroke-width="0.2">Both</text>
<rect x="287.15" y="433.95" width="179.9" height="171.85" fill="none" stroke="#5e5e5e" stroke-width="1.35" stroke-linejoin="round"/>
<line x1="317.2" y1="445.5" x2="354.3" y2="445.5" stroke="#8a8a8a" stroke-width="1"/>
<path d="M336.2,440.1L336.2,437.3M336.2,440.1L338.86,439.23M336.2,440.1L337.85,442.37M336.2,440.1L334.55,442.37M336.2,440.1L333.54,439.23" stroke="#1a1a1a" stroke-width="1.1" stroke-linecap="round" fill="none"/>
<line x1="359.3" y1="451.5" x2="432.6" y2="451.5" stroke="#8a8a8a" stroke-width="1"/>
<path d="M394.3,446.1L394.3,443.3M394.3,446.1L396.96,445.23M394.3,446.1L395.95,448.37M394.3,446.1L392.65,448.37M394.3,446.1L391.64,445.23" stroke="#1a1a1a" stroke-width="1.1" stroke-linecap="round" fill="none"/>
<line x1="360.8" y1="460.5" x2="397.9" y2="460.5" stroke="#8a8a8a" stroke-width="1"/>
<path d="M376.5,455.3L376.5,452.5M376.5,455.3L379.16,454.43M376.5,455.3L378.15,457.57M376.5,455.3L374.85,457.57M376.5,455.3L373.84,454.43" stroke="#1a1a1a" stroke-width="1.1" stroke-linecap="round" fill="none"/>
<text transform="translate(247.65,570.84) rotate(-90) scale(0.8508,1)" font-size="10.76" fill="#262626" stroke="#262626" stroke-width="0.2">Vertical astigmatism (µm)</text>
<text transform="translate(241.64,436) scale(0.9837,1)" font-size="20.64" fill="#000" font-weight="bold">F</text>
</g>
</svg>
</body></html>
